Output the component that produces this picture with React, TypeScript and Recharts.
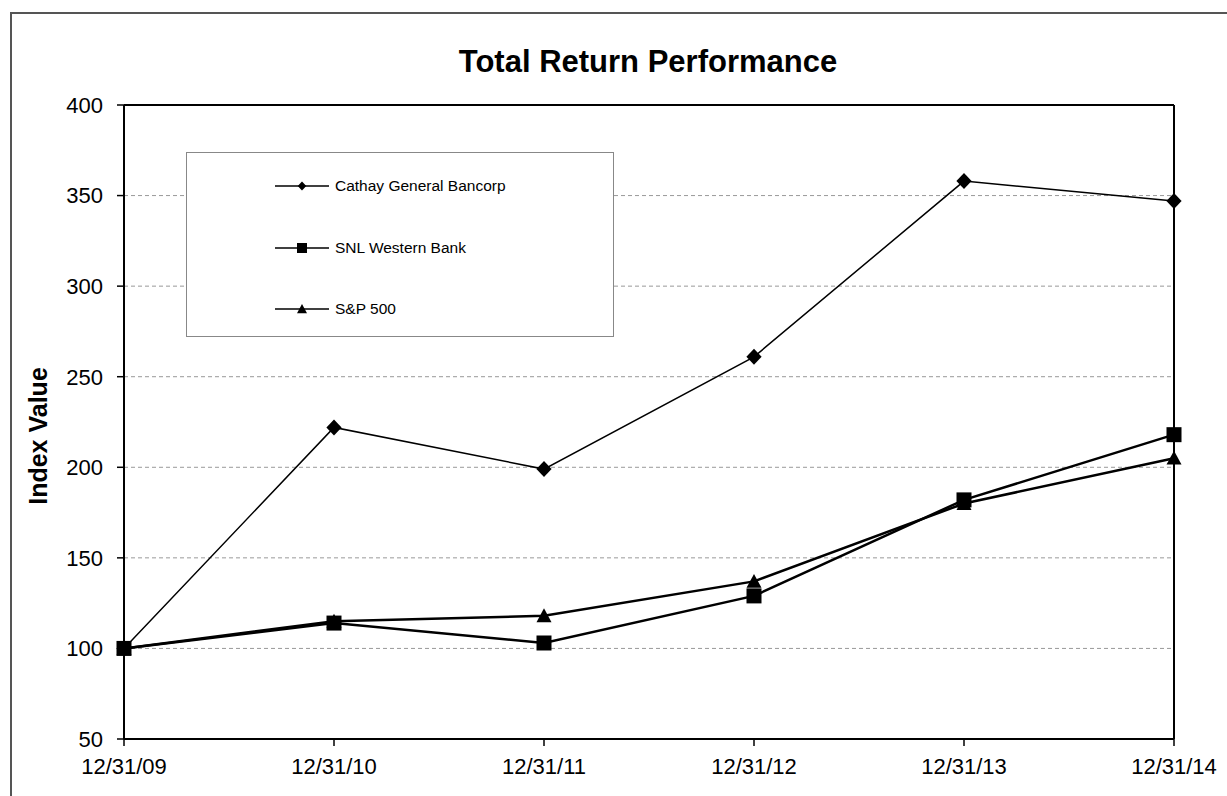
import {
  CartesianGrid,
  Legend,
  Line,
  LineChart,
  ReferenceLine,
  XAxis,
  YAxis,
} from "recharts";

const dates = ["12/31/09", "12/31/10", "12/31/11", "12/31/12", "12/31/13", "12/31/14"];
const cathay = [100, 222, 199, 261, 358, 347];
const snlWestern = [100, 114, 103, 129, 182, 218];
const sp500 = [100, 115, 118, 137, 180, 205];
const yTicks = [50, 100, 150, 200, 250, 300, 350, 400];

const data = dates.map((date, i) => ({
  date,
  cathay: cathay[i],
  snl: snlWestern[i],
  sp: sp500[i],
}));

type Shape = "diamond" | "square" | "triangle";

const series: {
  key: string;
  name: string;
  shape: Shape;
  width: number;
  dotSize: number;
  legendSize: number;
}[] = [
  { key: "cathay", name: "Cathay General Bancorp", shape: "diamond", width: 1.5, dotSize: 16, legendSize: 9 },
  { key: "snl", name: "SNL Western Bank", shape: "square", width: 2.5, dotSize: 15, legendSize: 10 },
  { key: "sp", name: "S&P 500", shape: "triangle", width: 2.5, dotSize: 15, legendSize: 10 },
];

function Marker({ cx, cy, shape, size }: { cx: number; cy: number; shape: Shape; size: number }) {
  if (cx == null || cy == null) return null;
  const h = size / 2;
  if (shape === "diamond") {
    return (
      <polygon
        points={`${cx},${cy - h} ${cx + h * 0.95},${cy} ${cx},${cy + h} ${cx - h * 0.95},${cy}`}
        fill="#000"
      />
    );
  }
  if (shape === "square") {
    return <rect x={cx - h} y={cy - h} width={size} height={size} fill="#000" />;
  }
  return (
    <polygon
      points={`${cx},${cy - h} ${cx + h},${cy + h * 0.85} ${cx - h},${cy + h * 0.85}`}
      fill="#000"
    />
  );
}

// legend keeps the series order, the payload only supplies the names
function LegendBox({ payload }: any) {
  const entries = payload ?? [];
  return (
    <div
      style={{
        width: "100%",
        height: "100%",
        boxSizing: "border-box",
        border: "1.5px solid #888",
        background: "#fff",
        position: "relative",
      }}
    >
      {series.map((s, i) => {
        const entry = entries.find((e: any) => e.dataKey === s.key);
        return (
          <div
            key={s.key}
            style={{
              position: "absolute",
              left: 88,
              top: 33 + i * 61.5 - 12,
              height: 24,
              display: "flex",
              alignItems: "center",
            }}
          >
            <svg width={54} height={24}>
              <line x1={0} y1={12} x2={54} y2={12} stroke="#000" strokeWidth={1.5} />
              <Marker cx={27} cy={12} shape={s.shape} size={s.legendSize} />
            </svg>
            <span style={{ marginLeft: 6, fontSize: 15.5, color: "#000" }}>
              {entry?.value ?? s.name}
            </span>
          </div>
        );
      })}
    </div>
  );
}

function YLabel({ viewBox }: any) {
  if (!viewBox) return null;
  const x = viewBox.x + 38;
  const y = viewBox.y + viewBox.height / 2 + 14;
  return (
    <text
      x={x}
      y={y}
      transform={`rotate(-90, ${x}, ${y})`}
      textAnchor="middle"
      dominantBaseline="central"
      fontSize={25}
      fontWeight="bold"
      fill="#000"
    >
      Index Value
    </text>
  );
}

export default function App() {
  return (
    <div
      style={{
        position: "absolute",
        left: 0,
        top: 0,
        width: 1227,
        height: 796,
        overflow: "hidden",
        background: "#fff",
        fontFamily: "'Liberation Sans', Arial, sans-serif",
      }}
    >
      <div
        style={{
          position: "absolute",
          left: 10,
          top: 12,
          width: 1300,
          height: 900,
          border: "2px solid #555",
        }}
      />
      <div
        style={{
          position: "absolute",
          left: 0,
          top: 44,
          width: 1296,
          textAlign: "center",
          fontSize: 31,
          fontWeight: "bold",
          color: "#000",
        }}
      >
        Total Return Performance
      </div>
      <LineChart
        width={1227}
        height={796}
        data={data}
        margin={{ top: 105, right: 53, bottom: 17, left: 0 }}
      >
        <CartesianGrid vertical={false} strokeDasharray="4 3" stroke="#999" />
        <XAxis
          dataKey="date"
          interval={0}
          padding={{ left: 0, right: 0 }}
          height={40}
          tickSize={7}
          tickMargin={12}
          tick={{ fill: "#000", fontSize: 22 }}
          tickLine={{ stroke: "#000", strokeWidth: 1.5 }}
          axisLine={{ stroke: "#000", strokeWidth: 2 }}
        />
        <YAxis
          domain={[50, 400]}
          ticks={yTicks}
          width={124}
          tickSize={7}
          tickMargin={14}
          tick={{ fill: "#000", fontSize: 22 }}
          tickLine={{ stroke: "#000", strokeWidth: 1.5 }}
          axisLine={{ stroke: "#000", strokeWidth: 2 }}
          label={<YLabel />}
        />
        <ReferenceLine y={400} stroke="#000" strokeWidth={2} />
        <ReferenceLine x="12/31/14" stroke="#000" strokeWidth={2} />
        <Legend
          layout="horizontal"
          verticalAlign="middle"
          align="center"
          content={<LegendBox />}
          wrapperStyle={{ left: 186, top: 152, width: 428, height: 185 }}
        />
        {series.map((s) => (
          <Line
            key={s.key}
            dataKey={s.key}
            name={s.name}
            type="linear"
            stroke="#000"
            strokeWidth={s.width}
            isAnimationActive={false}
            dot={(p: any) => (
              <Marker key={`${s.key}-${p.index}`} cx={p.cx} cy={p.cy} shape={s.shape} size={s.dotSize} />
            )}
            activeDot={false}
          />
        ))}
      </LineChart>
    </div>
  );
}
